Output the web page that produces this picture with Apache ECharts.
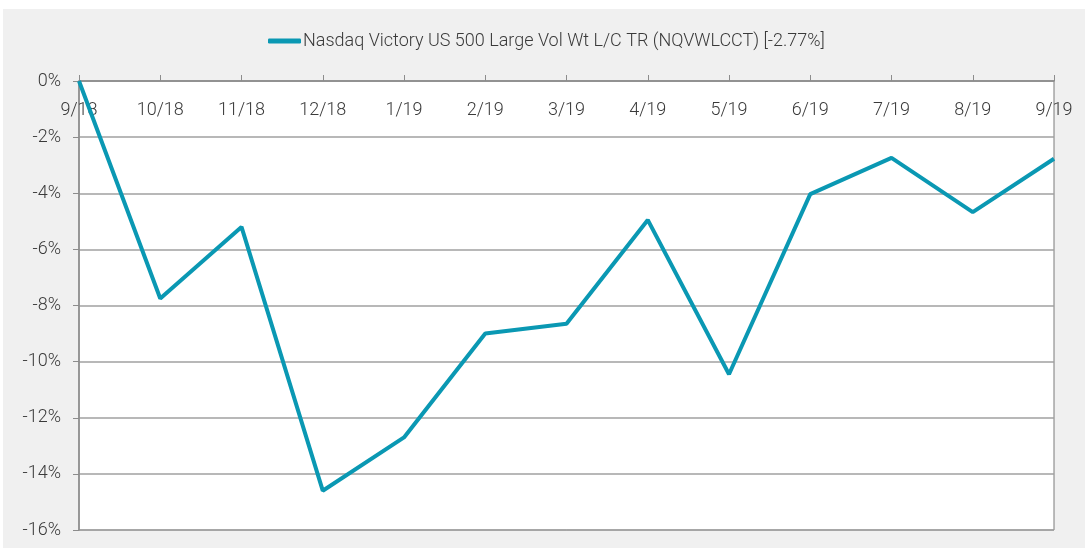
<!DOCTYPE html>
<html>
<head>
<meta charset="utf-8">
<script src="https://cdn.jsdelivr.net/npm/echarts@6/dist/echarts.min.js"></script>
<style>
  html, body { margin: 0; padding: 0; background: #fff; }
  #wrap { position: absolute; left: 3px; top: 9px; width: 1082px; height: 539px; background: #f0f0f0; }
  #chart { position: absolute; left: 0; top: 0; width: 1085px; height: 548px; }
</style>
</head>
<body>
<div id="wrap"></div>
<div id="chart"></div>
<script>
// Data
const months = ["9/18", "10/18", "11/18", "12/18", "1/19", "2/19", "3/19", "4/19", "5/19", "6/19", "7/19", "8/19", "9/19"]
const seriesName = "Nasdaq Victory US 500 Large Vol Wt L/C TR (NQVWLCCT) [-2.77%]"
const returns = [0, -7.75, -5.2, -14.6, -12.7, -9.0, -8.65, -4.95, -10.45, -4.03, -2.74, -4.67, -2.77]

const textColor = "#3a3a3a"
const fontFamily = "Roboto, 'Liberation Sans', sans-serif"
const fontWeight = 300

const chart = echarts.init(document.getElementById("chart"))
chart.setOption({
  backgroundColor: "transparent",
  animation: false,
  textStyle: { fontFamily: fontFamily, color: textColor, fontWeight: fontWeight },
  legend: {
    top: 32,
    left: 268,
    padding: 0,
    icon: "roundRect",
    itemWidth: 33,
    itemHeight: 5,
    textStyle: { fontSize: 18, color: textColor, fontFamily: fontFamily, fontWeight: fontWeight, padding: [0, 0, 0, -3] },
    data: [seriesName],
  },
  grid: {
    left: 79,
    right: 31,
    top: 81,
    bottom: 18,
    show: true,
    backgroundColor: "#fff",
    borderColor: "#7a7a7a",
    borderWidth: 1,
  },
  xAxis: {
    type: "category",
    position: "top",
    boundaryGap: false,
    data: months,
    axisLine: { show: true, lineStyle: { color: "#8c8c8c", width: 1.5 } },
    axisTick: { show: true, inside: false, length: 6, alignWithLabel: true, lineStyle: { color: "#8c8c8c" } },
    axisLabel: { inside: true, margin: 20, fontSize: 18, color: textColor, fontFamily: fontFamily, fontWeight: fontWeight },
    splitLine: { show: false },
  },
  yAxis: {
    type: "value",
    min: -16,
    max: 0,
    interval: 2,
    axisLine: { show: true, lineStyle: { color: "#8c8c8c", width: 1.5 } },
    axisTick: { show: true, length: 6, lineStyle: { color: "#8c8c8c" } },
    axisLabel: { formatter: "{value}%", margin: 18, fontSize: 18, color: textColor, fontFamily: fontFamily, fontWeight: fontWeight },
    splitLine: { show: true, lineStyle: { color: "#a0a0a0", width: 1.5 } },
  },
  series: [
    {
      name: seriesName,
      type: "line",
      data: returns,
      symbol: "none",
      lineStyle: { color: "#0a98b3", width: 4 },
      itemStyle: { color: "#0a98b3" },
    },
  ],
})
</script>
</body>
</html>
